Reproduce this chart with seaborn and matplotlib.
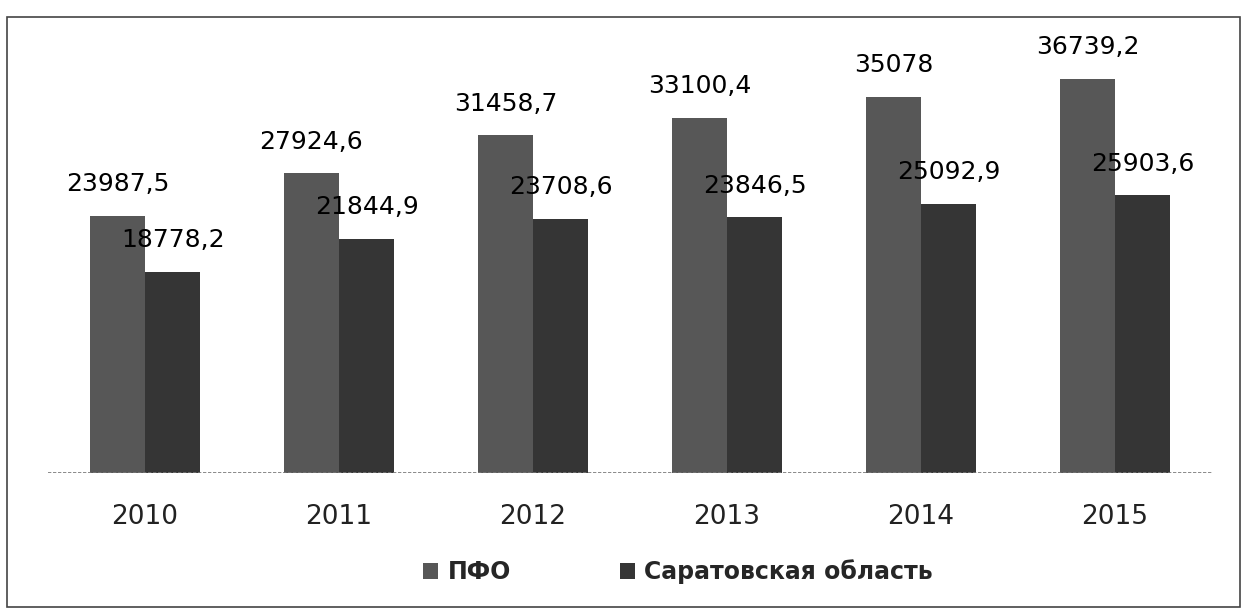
import numpy as np
import pandas as pd
import seaborn as sns
import matplotlib.pyplot as plt
from matplotlib.patches import Rectangle

years = ['2010', '2011', '2012', '2013', '2014', '2015']
pfo = [23987.5, 27924.6, 31458.7, 33100.4, 35078, 36739.2]
saratov = [18778.2, 21844.9, 23708.6, 23846.5, 25092.9, 25903.6]
series_names = ['ПФО', 'Саратовская область']

df = pd.DataFrame({
    'year': years * 2,
    'value': pfo + saratov,
    'series': [series_names[0]] * len(years) + [series_names[1]] * len(years),
})

sns.set_theme(style='white')
plt.rcParams['font.family'] = ['DejaVu Sans']

fig = plt.figure(figsize=(12.44, 6.10), dpi=100)
ax = fig.add_axes([0.0386, 0.2246, 0.9357, 0.73])

sns.barplot(data=df, x='year', y='value', hue='series', palette=['#575757', '#353535'],
            width=0.57, saturation=1, linewidth=0, edgecolor='none', ax=ax, legend=True)

for cont in ax.containers:
    vals = [b.get_height() for b in cont]
    labs = [f"{v:g}".replace('.', ',') for v in vals]
    ax.bar_label(cont, labels=labs, padding=14, fontsize=18, color='black')

ax.set_ylim(0, 41500)
ax.set_xlabel('')
ax.set_ylabel('')
ax.set_yticks([])
ax.tick_params(axis='x', labelsize=19, pad=22, length=0, labelcolor='#222222')
for s in ax.spines.values():
    s.set_visible(False)
ax.axhline(0, color='#777777', lw=1.2, ls=(0, (2, 1)))

handles, labels = ax.get_legend_handles_labels()
ax.get_legend().remove()
fig.legend(handles, labels, loc='center', bbox_to_anchor=(0.545, 0.063), ncol=2, frameon=False,
           prop={'size': 17, 'weight': 'bold'}, handlelength=0.65, handleheight=0.65,
           handletextpad=0.4, columnspacing=4.6)

fig.patches.append(Rectangle((7 / 1244, 3 / 610), 1233 / 1244, 590 / 610, transform=fig.transFigure,
                             fill=False, edgecolor='#444444', lw=1.2))

fig.savefig('out.png', dpi=100)
